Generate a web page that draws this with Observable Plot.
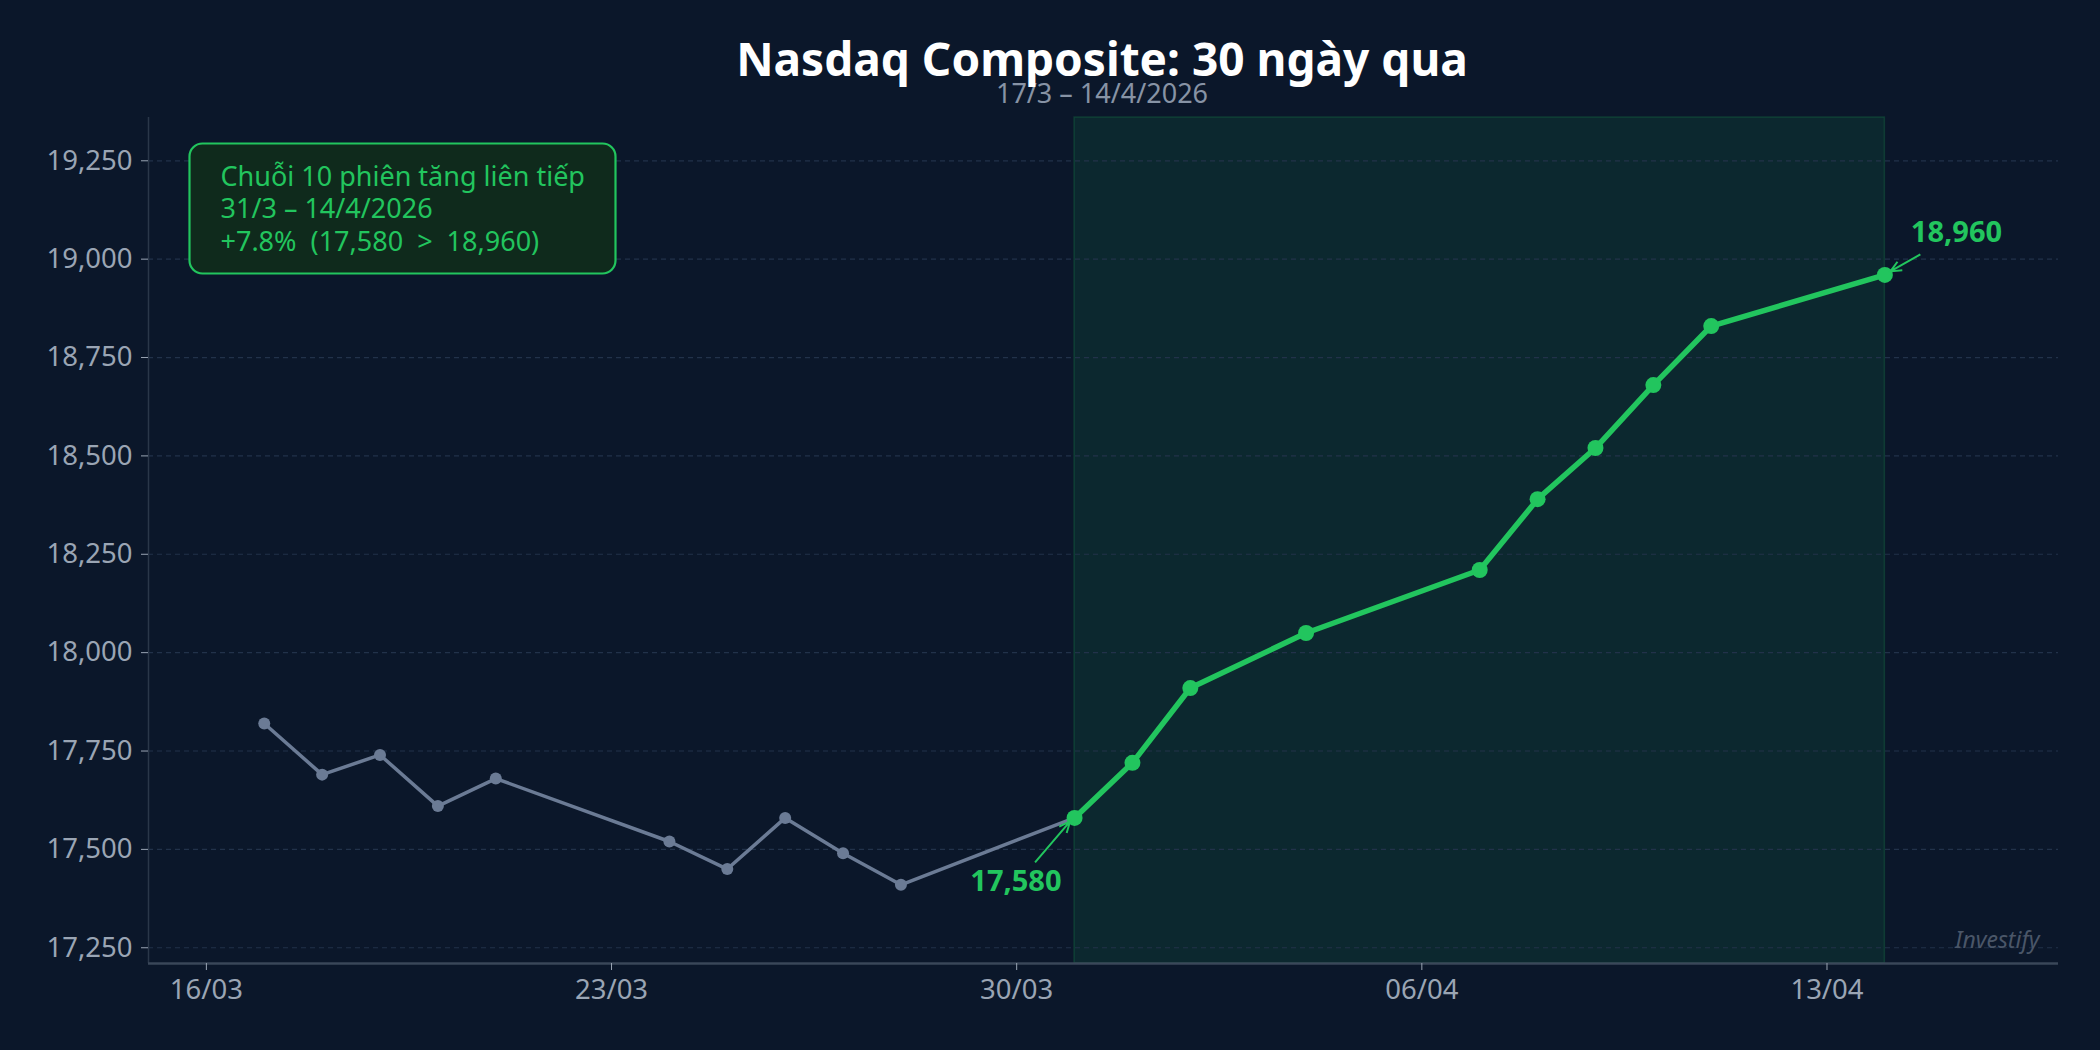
<!DOCTYPE html>
<html>
<head>
<meta charset="utf-8">
<script src="https://cdn.jsdelivr.net/npm/d3@7"></script>
<script src="https://cdn.jsdelivr.net/npm/@observablehq/plot@0.6"></script>
<style>
html, body { margin: 0; padding: 0; background: #0b172a; width: 2100px; height: 1050px; overflow: hidden; font-family: "Noto Sans", sans-serif; }
#header { position: relative; height: 106px; width: 2100px; }
#title { position: absolute; left: 104px; right: 0; top: 35px; text-align: center; font-size: 46px; font-weight: 700; color: #ffffff; line-height: 1; }
#subtitle { position: absolute; left: 104px; right: 0; top: 79px; text-align: center; font-size: 27px; color: #8793a5; line-height: 1; }
#chart svg { display: block; }
</style>
</head>
<body>
<div id="header">
  <div id="subtitle">17/3 – 14/4/2026</div>
  <div id="title">Nasdaq Composite: 30 ngày qua</div>
</div>
<div id="chart"></div>
<script>
// ---- data ----
const dates = [
  "2026-03-17", "2026-03-18", "2026-03-19", "2026-03-20", "2026-03-21",
  "2026-03-24", "2026-03-25", "2026-03-26", "2026-03-27", "2026-03-28",
  "2026-03-31", "2026-04-01", "2026-04-02", "2026-04-04", "2026-04-07",
  "2026-04-08", "2026-04-09", "2026-04-10", "2026-04-11", "2026-04-14"
];
const values = [
  17820, 17690, 17740, 17610, 17680,
  17520, 17450, 17580, 17490, 17410,
  17580, 17720, 17910, 18050, 18210,
  18390, 18520, 18680, 18830, 18960
];
const streakStart = 10;
const xTicks = ["2026-03-16", "2026-03-23", "2026-03-30", "2026-04-06", "2026-04-13"];
const yTicks = [17250, 17500, 17750, 18000, 18250, 18500, 18750, 19000, 19250];
const xDomain = ["2026-03-15", "2026-04-17"];
const yDomain = [17210, 19360];

// ---- build ----
const parse = s => new Date(s + "T00:00:00Z");
const data = dates.map((d, i) => ({date: parse(d), value: values[i]}));
const grayData = data.slice(0, streakStart + 1);
const greenData = data.slice(streakStart);
const first = greenData[0], last = greenData[greenData.length - 1];
const fmt = d3.format(",");
const pct = ((last.value / first.value - 1) * 100).toFixed(1);
const dm = d3.utcFormat("%-d/%-m"), dmy = d3.utcFormat("%-d/%-m/%Y");
const annText = `Chuỗi ${greenData.length} phiên tăng liên tiếp\n${dm(first.date)} – ${dmy(last.date)}\n+${pct}% \u00a0(${fmt(first.value)} \u00a0> \u00a0${fmt(last.value)})`;

const GREEN = "#22c55e", GRAY = "#6b7b95";

const plot = Plot.plot({
  width: 2100,
  height: 944,
  marginLeft: 148,
  marginRight: 42,
  marginTop: 11,
  marginBottom: 87,
  style: {background: "transparent", color: "#9aa5b4", fontFamily: "Noto Sans", fontSize: "27.5px"},
  x: {type: "utc", domain: xDomain.map(parse)},
  y: {domain: yDomain},
  marks: [
    Plot.rect([{x1: first.date, x2: last.date}], {x1: "x1", x2: "x2", fill: GREEN, fillOpacity: 0.1, stroke: GREEN, strokeOpacity: 0.18, strokeWidth: 1.5}),
    Plot.ruleY(yTicks, {stroke: "#22324a", strokeDasharray: "5,4", strokeWidth: 1.2}),
    Plot.ruleX([parse(xDomain[0])], {stroke: "#2a3749", strokeWidth: 1.5}),
    Plot.ruleY([yDomain[0]], {stroke: "#3a4759", strokeWidth: 2.5}),
    Plot.axisY({ticks: yTicks, tickFormat: fmt, tickSize: 7, tickPadding: 9, label: null}),
    Plot.axisX({ticks: xTicks.map(parse), tickFormat: d3.utcFormat("%d/%m"), tickSize: 7, tickPadding: 9, label: null}),
    Plot.line(grayData, {x: "date", y: "value", stroke: GRAY, strokeWidth: 3.5}),
    Plot.dot(grayData.slice(0, -1), {x: "date", y: "value", r: 6, fill: GRAY}),
    Plot.line(greenData, {x: "date", y: "value", stroke: GREEN, strokeWidth: 5.5}),
    Plot.dot(greenData, {x: "date", y: "value", r: 8, fill: GREEN}),
    Plot.frame({fill: "#0f2a1c", stroke: GREEN, strokeWidth: 2.2, rx: 13, insetLeft: 41, insetTop: 26, insetRight: 1443, insetBottom: 690}),
    Plot.text([annText], {frameAnchor: "top-left", textAnchor: "start", lineAnchor: "top", dx: 72, dy: 46, fill: GREEN, fontSize: 27, lineHeight: 1.19}),
    Plot.text([first], {x: "date", y: "value", text: d => fmt(d.value), textAnchor: "end", dx: -13, dy: 64, fill: GREEN, fontWeight: "bold", fontSize: 29}),
    Plot.text([last], {x: "date", y: "value", text: d => fmt(d.value), textAnchor: "start", dx: 26, dy: -42, fill: GREEN, fontWeight: "bold", fontSize: 29}),
    Plot.text(["Investify"], {frameAnchor: "bottom-right", textAnchor: "end", lineAnchor: "middle", dx: -19, dy: -23, fill: "#4a5668", fontStyle: "italic", fontSize: 23})
  ]
});

// annotation arrows placed through the plot's own scales
const sx = plot.scale("x"), sy = plot.scale("y");
const svg = d3.select(plot);
function arrow(pt, sOff, eOff) {
  const px = sx.apply(pt.date), py = sy.apply(pt.value);
  const x1 = px + sOff[0], y1 = py + sOff[1], x2 = px + eOff[0], y2 = py + eOff[1];
  const ang = Math.atan2(y2 - y1, x2 - x1), L = 12, a = 0.42;
  const hx1 = x2 - L * Math.cos(ang - a), hy1 = y2 - L * Math.sin(ang - a);
  const hx2 = x2 - L * Math.cos(ang + a), hy2 = y2 - L * Math.sin(ang + a);
  svg.append("path")
    .attr("d", `M${x1},${y1}L${x2},${y2}M${hx1},${hy1}L${x2},${y2}L${hx2},${hy2}`)
    .attr("fill", "none").attr("stroke", GREEN).attr("stroke-width", 2);
}
arrow(first, [-39, 45], [-4, 4]);
arrow(last, [36, -20], [6, -3]);

document.getElementById("chart").appendChild(plot);
</script>
</body>
</html>
